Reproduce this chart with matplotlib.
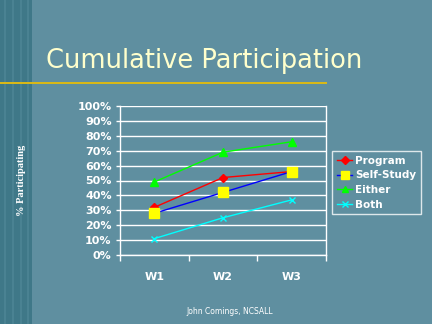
import matplotlib
matplotlib.use("Agg")
import matplotlib.pyplot as plt
from matplotlib.patches import Rectangle

waves = ["W1", "W2", "W3"]
program = [32, 52, 56]
self_study = [28, 42, 56]
either = [49, 69, 76]
both = [11, 25, 37]
yticks = [0, 10, 20, 30, 40, 50, 60, 70, 80, 90, 100]

bg = "#5f8fa0"
fig = plt.figure(figsize=(4.32, 3.24), dpi=100, facecolor=bg)

# left decorative strip
fig.patches.append(Rectangle((0, 0), 32/432, 1, transform=fig.transFigure,
                             facecolor="#3f7888", edgecolor="none", zorder=0))
for xs in [4, 12, 20, 27]:
    fig.patches.append(Rectangle((xs/432, 0), 2/432, 1, transform=fig.transFigure,
                                 facecolor="#4a8292", edgecolor="none", zorder=0))
# gold rule
fig.patches.append(Rectangle((0, (324-84)/324), 327/432, 2/324, transform=fig.transFigure,
                             facecolor="#d8b818", edgecolor="none", zorder=1))

fig.text(46/432, (324-61)/324, "Cumulative Participation", color="#ffffcc",
         fontsize=18.5, family="DejaVu Sans", va="center", ha="left")

ax = fig.add_axes([120/432, (324-255)/324, 206/432, 149/324])
ax.set_facecolor("none")
x = [0.5, 1.5, 2.5]
ax.plot(x, program, color="#ff0000", lw=1, marker="D", ms=4.5, mfc="#ff0000", mec="#ff0000", label="Program", zorder=3)
ax.plot(x, self_study, color="#0000ff", lw=1, marker="s", ms=6.5, mfc="#ffff00", mec="#ffff00", label="Self-Study", zorder=3)
ax.plot(x, either, color="#00ff00", lw=1, marker="^", ms=5.5, mfc="#00ff00", mec="#00ff00", label="Either", zorder=3)
ax.plot(x, both, color="#00ffff", lw=1, marker="x", ms=5, mec="#00ffff", label="Both", zorder=3)

ax.set_xlim(0, 3)
ax.set_ylim(0, 100)
ax.set_yticks(yticks)
ax.set_yticklabels([f"{v}%" for v in yticks])
ax.yaxis.grid(True, color="white", lw=1)
ax.set_xticks([0, 1, 2, 3])
ax.set_xticklabels([])
ax.set_xticks(x, minor=True)
ax.set_xticklabels(waves, minor=True)
ax.tick_params(axis="x", which="minor", length=0, pad=12)
ax.tick_params(axis="x", which="major", length=4, color="white", width=1)
ax.tick_params(axis="y", length=3, color="white", width=1, pad=3)
for lbl in ax.get_yticklabels() + ax.get_xticklabels(minor=True):
    lbl.set_color("white")
    lbl.set_fontweight("bold")
    lbl.set_fontsize(8)
for s in ["left", "bottom", "right"]:
    ax.spines[s].set_color("white")
    ax.spines[s].set_linewidth(1)
ax.spines["top"].set_visible(False)

fig.text(22/432, (324-180)/324, "% Participating", rotation=90, color="white",
         family="Liberation Serif", fontweight="bold", fontsize=7.5, va="center", ha="center")

leg = fig.legend(loc="upper left", bbox_to_anchor=(332/432, (324-151)/324),
                 frameon=True, fancybox=False, handlelength=1.5,
                 handletextpad=0.3, borderpad=0.45, labelspacing=0.45,
                 borderaxespad=0, markerscale=0.85,
                 prop={"weight": "bold", "size": 7.5})
leg.get_frame().set_facecolor("none")
leg.get_frame().set_edgecolor("white")
leg.get_frame().set_linewidth(1)
for t in leg.get_texts():
    t.set_color("white")

fig.text(230/432, (324-312)/324, "John Comings, NCSALL", color="white",
         fontsize=5.5, ha="center", va="center")

fig.savefig("out.png", dpi=100, facecolor=bg)
